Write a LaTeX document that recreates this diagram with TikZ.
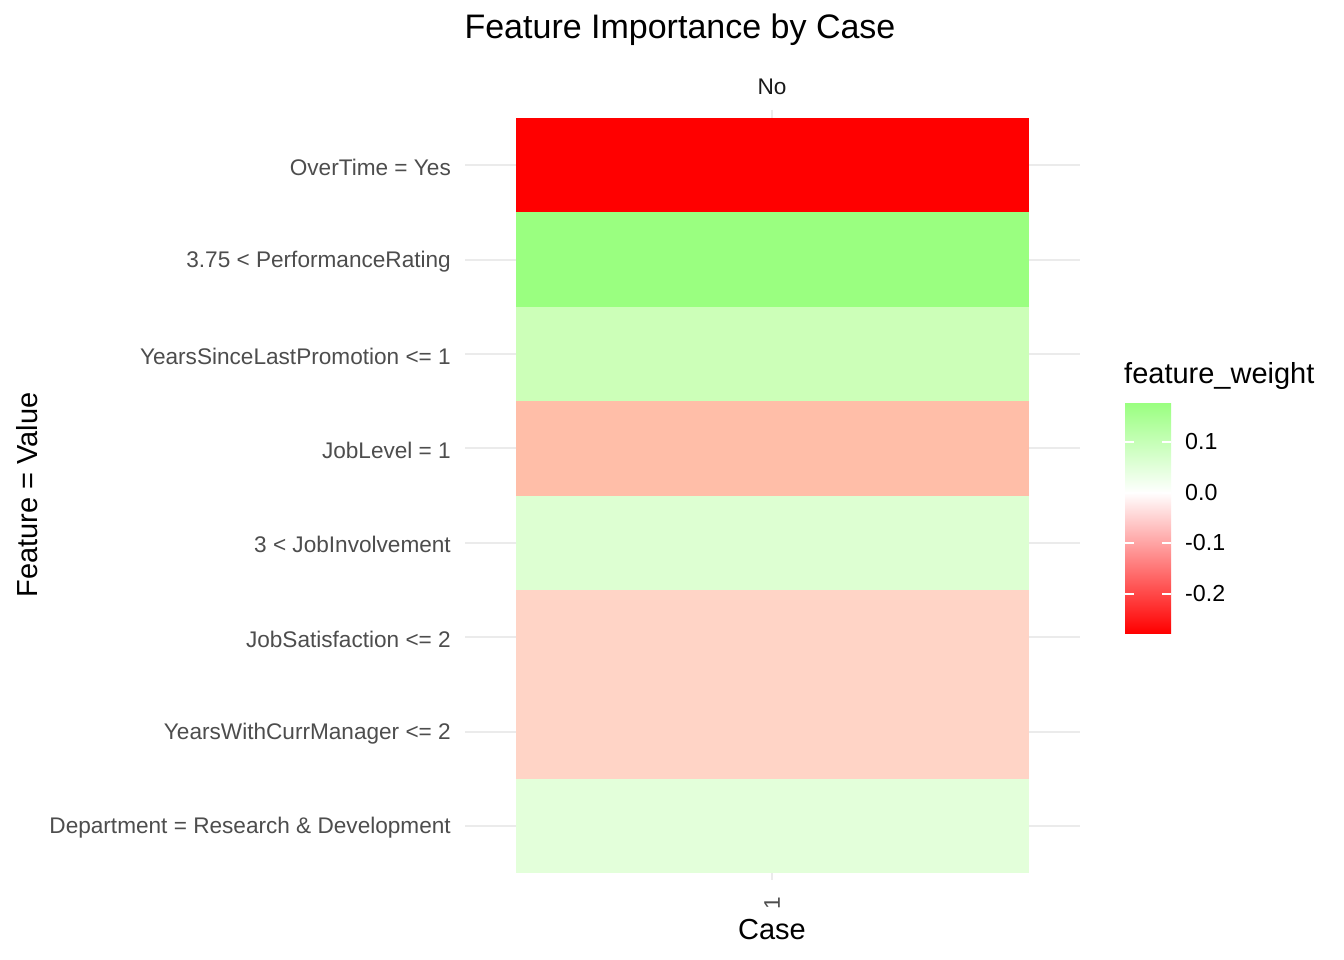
\documentclass[tikz,border=0pt]{standalone}
\usepackage{fontspec}
\setmainfont{Liberation Sans}
\definecolor{gridc}{HTML}{EBEBEB}
\definecolor{axtxt}{HTML}{4D4D4D}
\definecolor{c1}{HTML}{FF0000}
\definecolor{c2}{HTML}{9AFF80}
\definecolor{c3}{HTML}{CCFFB8}
\definecolor{c4}{HTML}{FFBEA8}
\definecolor{c5}{HTML}{DDFFD2}
\definecolor{c6}{HTML}{FFD4C6}
\definecolor{c7}{HTML}{FFD4C6}
\definecolor{c8}{HTML}{E3FFDA}
\definecolor{lgtop}{HTML}{9AFF80}
\begin{document}
\begin{tikzpicture}[x=1pt,y=-1pt,
  grid/.style={draw=gridc,line width=2pt},
  ylab/.style={anchor=east,text=axtxt,font=\fontsize{22.6}{26}\selectfont,inner sep=0pt},
  lgtxt/.style={anchor=west,text=black,font=\fontsize{23.2}{26}\selectfont,inner sep=0pt},
  tile/.style={draw=none}]
\useasboundingbox[fill=white] (0,0) rectangle (1344,960);
% grid lines
\foreach \yy in {165.2,259.6,354,448.3,542.7,637.1,731.5,825.8}
  \draw[grid] (465,\yy) -- (1080,\yy);
\draw[grid] (772,110) -- (772,880);
% tiles
\fill[c1] (516,118) rectangle (1029,212.4);
\fill[c2] (516,212.4) rectangle (1029,306.8);
\fill[c3] (516,306.8) rectangle (1029,401.1);
\fill[c4] (516,401.1) rectangle (1029,495.5);
\fill[c5] (516,495.5) rectangle (1029,589.9);
\fill[c6] (516,589.9) rectangle (1029,684.3);
\fill[c7] (516,684.3) rectangle (1029,778.6);
\fill[c8] (516,778.6) rectangle (1029,873);
% y labels
\node[ylab] (l1) at (451,167.2) {OverTime = Yes};
\node[ylab] (l2) at (451,261.6) {3.75 < PerformanceRating};
\node[ylab] (l3) at (451,356) {YearsSinceLastPromotion <= 1};
\node[ylab] (l4) at (451,450.3) {JobLevel = 1};
\node[ylab] (l5) at (451,544.7) {3 < JobInvolvement};
\node[ylab] (l6) at (451,639.1) {JobSatisfaction <= 2};
\node[ylab] (l7) at (451,733.5) {YearsWithCurrManager <= 2};
\node[ylab] (l8) at (451,827.8) {Department = Research \& Development};
% x labels
\node[text=black!90,font=\fontsize{22.6}{26}\selectfont,inner sep=0pt] (no) at (772,87) {No};
\node[text=axtxt,font=\fontsize{22.6}{26}\selectfont,inner sep=0pt,rotate=90] (one) at (772,903) {1};
\node[font=\fontsize{29}{34}\selectfont,inner sep=0pt] (case) at (772,930) {Case};
\node[font=\fontsize{29}{34}\selectfont,inner sep=0pt,rotate=90] (fv) at (27,495) {Feature = Value};
\node[font=\fontsize{34}{40}\selectfont,inner sep=0pt] (title) at (680,30) {Feature Importance by Case};
% legend
\node[anchor=west,font=\fontsize{29}{34}\selectfont,inner sep=0pt] (lgt) at (1124,376) {feature\_weight};
\shade[top color=lgtop,bottom color=white] (1125,403) rectangle (1171,493);
\shade[top color=white,bottom color=red] (1125,492.5) rectangle (1171,633);
\foreach \yy in {442,493,543,594}{
  \draw[white,line width=1.2pt] (1125,\yy) -- (1134,\yy);
  \draw[white,line width=1.2pt] (1162,\yy) -- (1171,\yy);}
\node[lgtxt] (t1) at (1185,442) {0.1};
\node[lgtxt] (t2) at (1185,493) {0.0};
\node[lgtxt] (t3) at (1185,543) {-0.1};
\node[lgtxt] (t4) at (1185,594) {-0.2};
\end{tikzpicture}
\end{document}
